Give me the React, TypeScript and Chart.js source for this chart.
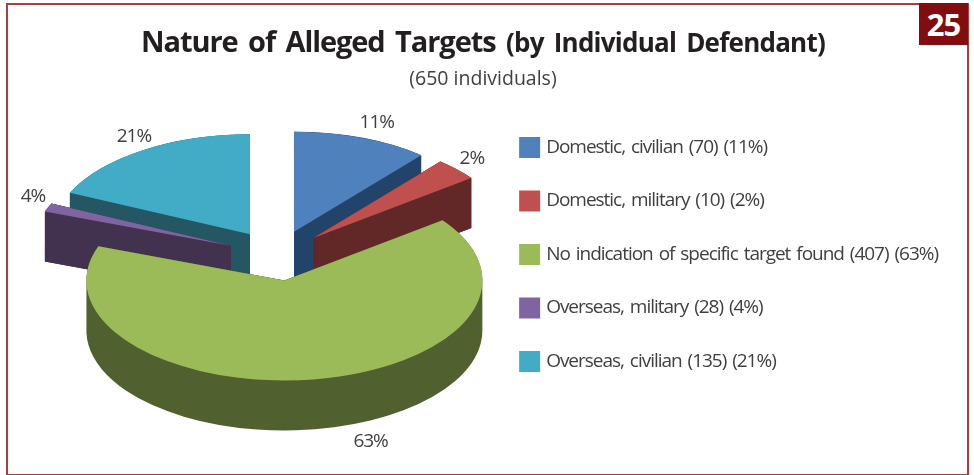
import React, { useEffect, useRef } from "react";
import { Chart, registerables } from "chart.js";

Chart.register(...registerables);

const categories = [
  "Domestic, civilian",
  "Domestic, military",
  "No indication of specific target found",
  "Overseas, military",
  "Overseas, civilian",
];
const individuals = [70, 10, 407, 28, 135];
const percentages = [11, 2, 63, 4, 21];
const legendLabels = categories.map((c, i) => `${c} (${individuals[i]}) (${percentages[i]}%)`);

const topColors = ["#4f81bd", "#c0504d", "#9bbb59", "#8064a2", "#42abc5"];
const wallColors = ["#23446a", "#622727", "#50602e", "#42314f", "#245663"];

// The look of the projected 3-D pie
const PIE_CX = 277;
const PIE_CY = 255.5;
const RADIUS_X = 198;
const SQUASH = 100 / 198;
const EXPLODE = 50;
const DEPTH = 50;
const DRAW_ORDER = [0, 1, 4, 3, 2];
// perspective foreshortening of each slice's edges, in degrees [start, end]
const PERSPECTIVE = [[0, 1.2], [1.2, 8.7], [8.7, 20.3], [20.3, 9.8], [9.3, 0]];
const LABEL_NUDGE = [[15, -15], [15, -11], [57, 62], [-15, -11], [-9, -14]];

const FONT = '"Open Sans"';
const FONT_SIZE = 19;
const LETTER_SPACING = "-1.02px";
const WORD_SPACING = "2px";
const TEXT_COLOR = "#3f3f3f";
const LEGEND_STROKE = 7;

const tiltedPie = {
  id: "tiltedPie",
  beforeLayout(chart: any) {
    chart.ctx.letterSpacing = LETTER_SPACING;
    chart.ctx.wordSpacing = WORD_SPACING;
  },
  afterDatasetsUpdate(chart: any) {
    const arcs = chart.getDatasetMeta(0).data;
    arcs.forEach((arc: any, i: number) => {
      arc.startAngle += (PERSPECTIVE[i][0] * Math.PI) / 180;
      arc.endAngle += (PERSPECTIVE[i][1] * Math.PI) / 180;
      arc.circumference = arc.endAngle - arc.startAngle;
    });
  },
  beforeDatasetDraw(chart: any) {
    const ctx = chart.ctx;
    const arcs = chart.getDatasetMeta(0).data;
    DRAW_ORDER.forEach((i) => {
      const arc = arcs[i];
      const mid = (arc.startAngle + arc.endAngle) / 2;
      const ax = PIE_CX + Math.cos(mid) * EXPLODE;
      const ay = PIE_CY + Math.sin(mid) * EXPLODE * SQUASH;
      const rx = arc.outerRadius;
      const ry = rx * SQUASH;
      ctx.fillStyle = wallColors[i];
      // side walls: the sector swept down through the depth
      ctx.beginPath();
      for (let d = DEPTH; d >= 0; d--) {
        ctx.moveTo(ax, ay + d);
        ctx.ellipse(ax, ay + d, rx, ry, 0, arc.startAngle, arc.endAngle);
        ctx.closePath();
      }
      ctx.fill("nonzero");
      // the two radial faces, solid even where the sector is thinner than a pixel
      [arc.startAngle, arc.endAngle].forEach((a: number) => {
        const ex = ax + Math.cos(a) * rx;
        const ey = ay + Math.sin(a) * ry;
        ctx.beginPath();
        ctx.moveTo(ax, ay);
        ctx.lineTo(ex, ey);
        ctx.lineTo(ex, ey + DEPTH);
        ctx.lineTo(ax, ay + DEPTH);
        ctx.closePath();
        ctx.fill();
      });
      // top face: the library's own arc, squashed
      ctx.save();
      ctx.translate(ax, ay);
      ctx.scale(1, SQUASH);
      ctx.translate(-arc.x, -arc.y);
      const kept = arc.options;
      arc.options = { offset: 0, spacing: 0, borderWidth: 0, circular: true, backgroundColor: topColors[i] };
      arc.draw(ctx);
      arc.options = kept;
      ctx.restore();
    });
    ctx.save();
    ctx.font = `${FONT_SIZE}px ${FONT}`;
    ctx.fillStyle = TEXT_COLOR;
    ctx.textAlign = "center";
    ctx.textBaseline = "middle";
    arcs.forEach((arc: any, i: number) => {
      const mid = (arc.startAngle + arc.endAngle) / 2;
      const r = RADIUS_X + EXPLODE;
      ctx.fillText(
        `${percentages[i]}%`,
        PIE_CX + Math.cos(mid) * r + LABEL_NUDGE[i][0],
        PIE_CY + Math.sin(mid) * r * SQUASH + LABEL_NUDGE[i][1],
      );
    });
    ctx.restore();
    return false;
  },
};

export default function App() {
  const ref = useRef<HTMLCanvasElement>(null);
  useEffect(() => {
    const chart = new Chart(ref.current as HTMLCanvasElement, {
      type: "pie",
      data: {
        labels: legendLabels,
        datasets: [{ data: individuals, backgroundColor: topColors, borderWidth: 0 }],
      },
      options: {
        responsive: false,
        animation: false,
        radius: RADIUS_X,
        layout: { padding: { top: 34, right: 26 } },
        plugins: {
          tooltip: { enabled: false },
          legend: {
            position: "right",
            maxWidth: 500,
            labels: {
              boxWidth: 14,
              boxHeight: 14,
              padding: 34.5,
              color: TEXT_COLOR,
              font: { family: FONT, size: FONT_SIZE },
              generateLabels: (c: any) =>
                (Chart as any).overrides.pie.plugins.legend.labels.generateLabels(c).map((item: any, i: number) => ({
                  ...item,
                  fillStyle: topColors[i],
                  strokeStyle: topColors[i],
                  lineWidth: LEGEND_STROKE,
                })),
            },
          },
        },
      },
      plugins: [tiltedPie],
    } as any);
    return () => chart.destroy();
  }, []);

  return (
    <div style={{ position: "absolute", left: 0, top: 0, width: 974, height: 475, background: "#fff", overflow: "hidden", fontFamily: FONT }}>
      <div style={{ position: "absolute", left: 6, top: 3, width: 959, height: 469, border: "2px solid #a93d3f" }} />
      <canvas ref={ref} width={974} height={475} style={{ position: "absolute", left: 0, top: 0, display: "block" }} />
      <div style={{ position: "absolute", left: 919, top: 3, width: 49, height: 42, background: "#820d10", color: "#fff", fontWeight: 700, fontSize: 31, lineHeight: "42px", textAlign: "center", letterSpacing: -1 }}>25</div>
      <div style={{ position: "absolute", left: 0, width: 966, top: 20, textAlign: "center", whiteSpace: "nowrap", fontWeight: 700, color: "#231f20", fontSize: 29, lineHeight: "42px", letterSpacing: -1.08, wordSpacing: 4 }}>
        Nature of Alleged Targets <span style={{ fontSize: 26, letterSpacing: -0.76 }}>(by Individual Defendant)</span>
      </div>
      <div style={{ position: "absolute", left: 0, width: 966, top: 65, textAlign: "center", whiteSpace: "nowrap", color: TEXT_COLOR, fontSize: 19.5, lineHeight: "26px" }}>(650 individuals)</div>
    </div>
  );
}
